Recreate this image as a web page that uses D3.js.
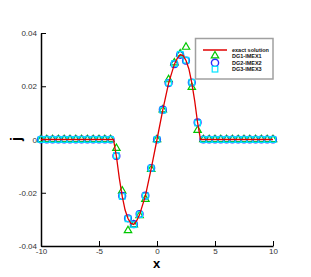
<!DOCTYPE html>
<html lang="en">

<head>
    <meta charset="UTF-8">
    <title>j(x) DG-IMEX comparison</title>
    <script src="https://d3js.org/d3.v7.min.js"></script>
    <style>
        body {
            margin: 0;
            background: #fff;
        }

        svg {
            display: block;
            font-family: "Liberation Sans", Arial, sans-serif;
        }

        .tick text {
            fill: #333;
            font-size: 8px;
        }

        .legend text {
            font-size: 5.5px;
            font-weight: bold;
            fill: #111;
        }
    </style>
</head>

<body>
    <svg width="311" height="277"></svg>

    <script>
        // grid of the numerical solutions
        const xs = [-10, -9.5, -9, -8.5, -8, -7.5, -7, -6.5, -6, -5.5, -5, -4.5, -4,
            -3.5, -3, -2.5, -2, -1.5, -1, -0.5, 0, 0.5, 1, 1.5, 2, 2.5, 3, 3.5,
            4, 4.5, 5, 5.5, 6, 6.5, 7, 7.5, 8, 8.5, 9, 9.5, 10];

        const dg1 = [0, 0, 0, 0, 0, 0, 0, 0, 0, 0, 0, 0, 0,
            -0.0033, -0.0193, -0.0342, -0.0320, -0.0285, -0.0224, -0.0112, 0, 0.0112, 0.0225, 0.0288, 0.0322, 0.0347, 0.0196, 0.0035,
            0, 0, 0, 0, 0, 0, 0, 0, 0, 0, 0, 0, 0];

        const dg2 = [0, 0, 0, 0, 0, 0, 0, 0, 0, 0, 0, 0, 0,
            -0.0062, -0.0212, -0.0296, -0.0318, -0.0280, -0.0211, -0.0107, 0, 0.0112, 0.0212, 0.0283, 0.0318, 0.0296, 0.0214, 0.0064,
            0, 0, 0, 0, 0, 0, 0, 0, 0, 0, 0, 0, 0];

        const dg3 = [0, 0, 0, 0, 0, 0, 0, 0, 0, 0, 0, 0, 0,
            -0.0060, -0.0214, -0.0298, -0.0320, -0.0282, -0.0212, -0.0108, 0, 0.0110, 0.0213, 0.0285, 0.0320, 0.0298, 0.0215, 0.0062,
            0, 0, 0, 0, 0, 0, 0, 0, 0, 0, 0, 0, 0];

        // exact solution
        const exactX = [-10, -3.75, -3.5, -3.25, -3, -2.75, -2.5, -2.25, -2, -1.75, -1.5, -1, -0.5, 0,
            0.5, 1, 1.5, 1.75, 2, 2.25, 2.5, 2.75, 3, 3.25, 3.5, 3.75, 10];
        const exactJ = [0, 0, -0.0063, -0.0145, -0.0213, -0.0265, -0.0297, -0.0315, -0.0319, -0.0305, -0.0282, -0.0212, -0.0109, 0,
            0.0111, 0.0212, 0.0283, 0.0305, 0.0319, 0.0315, 0.0297, 0.0265, 0.0213, 0.0145, 0.0063, 0, 0];

        const xMajor = [-10, -5, 0, 5, 10];
        const xTickLabels = ["-10", "-5", "0", "5", "10"];
        const xMinor = [-9, -8, -7, -6, -4, -3, -2, -1, 1, 2, 3, 4, 6, 7, 8, 9];
        const yMajor = [0.04, 0.02, 0, -0.02, -0.04];
        const yTickLabels = ["0.04", "0.02", "0", "-0.02", "-0.04"];
        const yMinor = [0.035, 0.03, 0.025, 0.015, 0.01, 0.005, -0.005, -0.01, -0.015, -0.025, -0.03, -0.035];

        const legendLabels = ["exact solution", "DG1-IMEX1", "DG2-IMEX2", "DG3-IMEX3"];

        const red = "#e00000", green = "#00c800", blue = "#2b2bff", cyan = "#00e4ff";

        const svg = d3.select("svg");

        const x = d3.scaleLinear().domain([-10, 10]).range([41, 273]);
        const y = d3.scaleLinear().domain([-0.04, 0.04]).range([246, 33]);

        // axes (ticks point into the plot)
        const gx = svg.append("g").attr("transform", `translate(0,${y(-0.04)})`);
        gx.call(d3.axisBottom(x).tickValues(xMinor).tickFormat("").tickSize(-3).tickSizeOuter(0));
        gx.call(d3.axisBottom(x).tickValues(xMajor).tickFormat((d, i) => xTickLabels[i])
            .tickSize(-5).tickSizeOuter(0).tickPadding(2.5));

        const gy = svg.append("g").attr("transform", `translate(${x(-10)},0)`);
        gy.call(d3.axisLeft(y).tickValues(yMinor).tickFormat("").tickSize(-3).tickSizeOuter(0));
        gy.call(d3.axisLeft(y).tickValues(yMajor).tickFormat((d, i) => yTickLabels[i])
            .tickSize(-5).tickSizeOuter(0).tickPadding(4));

        svg.selectAll(".domain").attr("stroke", "#000").attr("stroke-width", 1.5);
        svg.selectAll(".tick line").attr("stroke", "#000").attr("stroke-width", 1);
        svg.selectAll(".tick text").attr("font-family", null).attr("font-size", null);

        // axis titles
        svg.append("text")
            .attr("x", 156.5).attr("y", 268)
            .attr("text-anchor", "middle")
            .attr("font-size", 13).attr("font-weight", "bold")
            .text("x");

        svg.append("text")
            .attr("transform", "translate(21,139) rotate(-90)")
            .attr("text-anchor", "middle")
            .attr("font-size", 14).attr("font-weight", "bold")
            .text("j");

        // markers
        const tri = d3.symbol().type(d3.symbolTriangle).size(24);

        svg.append("g").selectAll("path")
            .data(xs.map((d, i) => [d, dg1[i]]))
            .join("path")
            .attr("d", tri)
            .attr("transform", d => `translate(${x(d[0])},${y(d[1])})`)
            .attr("fill", "none").attr("stroke", green).attr("stroke-width", 1.2);

        svg.append("g").selectAll("circle")
            .data(xs.map((d, i) => [d, dg2[i]]))
            .join("circle")
            .attr("cx", d => x(d[0])).attr("cy", d => y(d[1]))
            .attr("r", 3.4)
            .attr("fill", "none").attr("stroke", blue).attr("stroke-width", 1.4);

        svg.append("g").selectAll("rect")
            .data(xs.map((d, i) => [d, dg3[i]]))
            .join("rect")
            .attr("x", d => x(d[0]) - 2.8).attr("y", d => y(d[1]) - 2.8)
            .attr("width", 5.6).attr("height", 5.6)
            .attr("fill", "none").attr("stroke", cyan).attr("stroke-width", 1.2);

        // exact solution line
        const line = d3.line().x(d => x(d[0])).y(d => y(d[1]));
        svg.append("path")
            .datum(exactX.map((d, i) => [d, exactJ[i]]))
            .attr("d", line)
            .attr("fill", "none").attr("stroke", red).attr("stroke-width", 1.3);

        // legend
        const lg = svg.append("g").attr("class", "legend");
        lg.append("rect")
            .attr("x", 195.5).attr("y", 38.5).attr("width", 77.5).attr("height", 40.5)
            .attr("fill", "#fff").attr("stroke", "#a0a0a0").attr("stroke-width", 1.5);

        const rowY = i => 50 + i * 6.4;

        lg.append("line")
            .attr("x1", 203).attr("x2", 227).attr("y1", rowY(0)).attr("y2", rowY(0))
            .attr("stroke", red).attr("stroke-width", 1.5);
        lg.append("path")
            .attr("d", tri).attr("transform", `translate(215,${rowY(1) - 0.6})`)
            .attr("fill", "none").attr("stroke", green).attr("stroke-width", 1.2);
        lg.append("circle")
            .attr("cx", 215).attr("cy", rowY(2)).attr("r", 3.6)
            .attr("fill", "none").attr("stroke", blue).attr("stroke-width", 1.4);
        lg.append("rect")
            .attr("x", 212.2).attr("y", rowY(3) - 2.8).attr("width", 5.6).attr("height", 5.6)
            .attr("fill", "none").attr("stroke", cyan).attr("stroke-width", 1.2);

        lg.selectAll("text.lab")
            .data(legendLabels)
            .join("text")
            .attr("class", "lab")
            .attr("x", 232).attr("y", (d, i) => rowY(i))
            .attr("dy", "0.35em")
            .text(d => d);
    </script>
</body>

</html>
